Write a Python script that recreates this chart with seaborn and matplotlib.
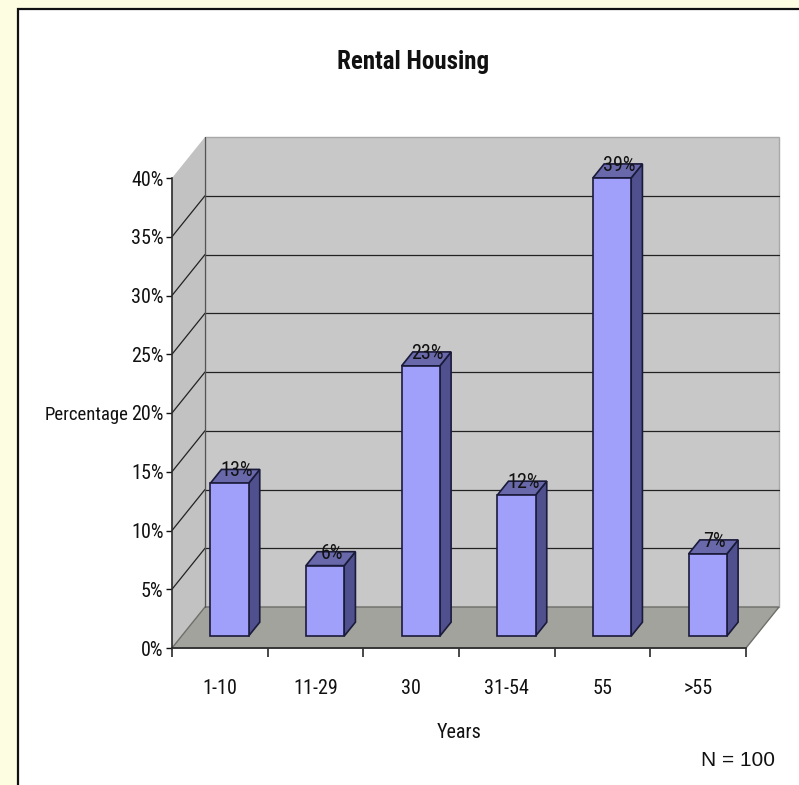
import matplotlib
matplotlib.use("Agg")
import numpy as np
import pandas as pd
import seaborn as sns
import matplotlib.pyplot as plt
from matplotlib.patches import Polygon, Rectangle
from matplotlib import font_manager

# ---- data -------------------------------------------------------------
categories = ["1-10", "11-29", "30", "31-54", "55", ">55"]
shares = [13, 6, 23, 12, 39, 7]
y_ticks = [0, 5, 10, 15, 20, 25, 30, 35, 40]
y_tick_labels = [f"{t}%" for t in y_ticks]
bar_labels = [f"{v}%" for v in shares]
title = "Rental Housing"
x_title = "Years"
y_title = "Percentage"
note = "N = 100"

# ---- styling ----------------------------------------------------------
W, H = 799, 785
sns.set_theme(style="white")
installed = {f.name for f in font_manager.fontManager.ttflist}
MAIN = next((n for n in ("Liberation Sans Narrow", "Roboto Condensed", "Lato")
             if n in installed), "DejaVu Sans")
NARROW_FONT = MAIN in ("Liberation Sans Narrow", "Roboto Condensed")
plt.rcParams["font.family"] = [MAIN, "DejaVu Sans"]

LABEL_SIZE = 14.5 if NARROW_FONT else 12.5
YLABEL_SIZE = 13.5 if NARROW_FONT else 12
TITLE_SIZE = 18 if NARROW_FONT else 15.5

FRONT = "#a0a0fb"
SIDE = "#50508e"
TOP = "#6868aa"
EDGE = "#1a1a3a"
BACK_WALL = "#c8c8c8"
LEFT_WALL = "#c2c2c2"
FLOOR = "#a2a39c"
GRID = "#222222"
INK = "#111111"

fig = plt.figure(figsize=(W / 100, H / 100), dpi=100)
fig.patch.set_facecolor("#fdfde2")

# white panel with a dark frame on the left and top
panel = Rectangle((18 / W, -0.05), 1.2, 1 - 9 / H + 0.05,
                  transform=fig.transFigure, facecolor="white",
                  edgecolor="#111111", lw=1.6, zorder=-5)
fig.patches.append(panel)

# front plane of the plot box
ax = fig.add_axes([172 / W, 1 - 648 / H, 574 / W, 470 / H])
ax.set_zorder(1)
ax.patch.set_alpha(0)

df = pd.DataFrame({"Years": categories, "Share": shares})
sns.barplot(data=df, x="Years", y="Share", ax=ax, width=0.4, color=FRONT,
            saturation=1, edgecolor=EDGE, linewidth=1.2, zorder=5)
bars = list(ax.patches)

ax.set_xlim(-0.5, len(categories) - 0.5)
ax.set_ylim(0, 40)

# oblique depth: pixel offset of the back plane from the front plane
DEPTH = np.array([33.0, 41.0])
p0 = ax.transData.transform((0, 0))
p1 = ax.transData.transform((1, 1))
ux, uy = 1 / (p1[0] - p0[0]), 1 / (p1[1] - p0[1])


def at(x, y, d):
    """Data position of (x, y) pushed back to relative depth d."""
    return (x + d * DEPTH[0] * ux, y + d * DEPTH[1] * uy)


x0, x1 = ax.get_xlim()
y0, y1 = ax.get_ylim()


def poly(pts, fc, ec="none", lw=0.8, z=1):
    ax.add_patch(Polygon(pts, closed=True, facecolor=fc, edgecolor=ec,
                         lw=lw, zorder=z, clip_on=False))


# walls and floor
poly([at(x0, y0, 1), at(x1, y0, 1), at(x1, y1, 1), at(x0, y1, 1)],
     BACK_WALL, ec="#a8a8a8", lw=1.0, z=1)
poly([at(x0, y0, 0), at(x0, y0, 1), at(x0, y1, 1), at(x0, y1, 0)],
     LEFT_WALL, z=1)
poly([at(x0, y0, 0), at(x1, y0, 0), at(x1, y0, 1), at(x0, y0, 1)],
     FLOOR, ec="#6e6e6a", lw=1.0, z=2)

# gridlines on the back wall and the left wall
for t in y_ticks[1:-1]:
    ax.plot(*zip(at(x0, t, 1), at(x1, t, 1)), color=GRID, lw=0.9,
            zorder=2, clip_on=False)
    ax.plot(*zip(at(x0, t, 0), at(x0, t, 1)), color=GRID, lw=0.9,
            zorder=2, clip_on=False)
ax.plot(*zip(at(x0, y0, 1), at(x0, y1, 1)), color="#555555", lw=0.9,
        zorder=2, clip_on=False)

# give the seaborn bars depth: shift the fronts back, add side and top faces
D0, D1 = 0.29, 0.63
for patch, label in zip(bars, bar_labels):
    xl = patch.get_x()
    w = patch.get_width()
    v = patch.get_height()
    xr = xl + w
    patch.set_x(xl + D0 * DEPTH[0] * ux)
    patch.set_y(D0 * DEPTH[1] * uy)
    patch.set_clip_on(False)
    poly([at(xr, 0, D0), at(xr, 0, D1), at(xr, v, D1), at(xr, v, D0)],
         SIDE, ec=EDGE, lw=1.2, z=4)
    poly([at(xl, v, D0), at(xr, v, D0), at(xr, v, D1), at(xl, v, D1)],
         TOP, ec=EDGE, lw=1.2, z=4)
    cx, cy = at(xl + w / 2, v, (D0 + D1) / 2)
    ax.annotate(label, xy=(cx, cy), xytext=(1, 4), textcoords="offset points",
                ha="center", va="center", fontsize=LABEL_SIZE, color=INK,
                zorder=7, annotation_clip=False)

# axes, ticks and labels
for side in ("top", "right"):
    ax.spines[side].set_visible(False)
for side in ("left", "bottom"):
    ax.spines[side].set_visible(True)
    ax.spines[side].set_color("#2a2a2a")
    ax.spines[side].set_linewidth(1.2)
    ax.spines[side].set_zorder(6)

ax.set_yticks(y_ticks, y_tick_labels)
ax.tick_params(axis="y", left=True, direction="out", length=4, width=1,
               pad=2, labelsize=LABEL_SIZE, colors=INK)
ax.set_xticks(range(len(categories)), categories)
ax.set_xticks(np.arange(x0, x1 + 0.01, 1.0), minor=True)
ax.tick_params(axis="x", which="major", bottom=False, length=0, pad=22,
               labelsize=LABEL_SIZE, colors=INK)
ax.tick_params(axis="x", which="minor", bottom=True, direction="out",
               length=6.5, width=1.2, color="#2a2a2a")
ax.grid(False)

ax.set_xlabel(x_title, fontsize=LABEL_SIZE, color=INK)
ax.xaxis.set_label_coords(0.5, (648 - 733) / 470)
ax.xaxis.label.set_va("center")
ax.set_ylabel(y_title, rotation=0, ha="right", va="center",
              fontsize=YLABEL_SIZE, color=INK)
ax.yaxis.set_label_coords(-(172 - 128) / 574, (648 - 415) / 470)

fig.text(413 / W, 1 - 62 / H, title, ha="center", va="center",
         fontsize=TITLE_SIZE, fontweight="bold", color=INK)
fig.text(738 / W, 1 - 760 / H, note, ha="center", va="center", fontsize=15,
         family=["Liberation Sans", "DejaVu Sans"], color=INK)

fig.savefig("out.png", dpi=100, facecolor=fig.get_facecolor())
